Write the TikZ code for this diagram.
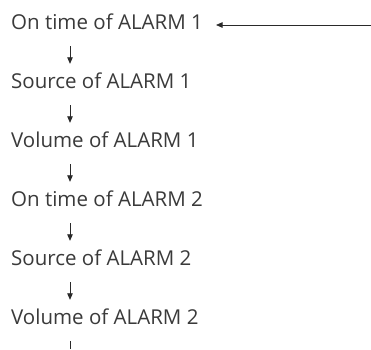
\documentclass[tikz,border=0pt]{standalone}
\usepackage{fontspec}
\setmainfont{Open Sans}
\usepackage{tikz}
\usetikzlibrary{arrows.meta,positioning,calc}
\definecolor{ink}{HTML}{3A3A3A}
\definecolor{wire}{HTML}{2A2A2A}
\tikzset{
  menuitem/.style={anchor=base west,inner xsep=0pt,inner ysep=0pt,
                   text height=15pt,text depth=4pt,
                   font=\fontsize{20.5}{24}\selectfont,text=ink},
  flowarr/.style={-{Triangle[length=6.5pt,width=5.5pt]},line width=0.8pt,color=wire,
                  shorten <=13pt,shorten >=9pt},
  feedarr/.style={-{Triangle[length=6.5pt,width=5.5pt]},line width=0.8pt,color=wire}
}

\begin{document}
\begin{tikzpicture}[x=1pt,y=1pt]
      \useasboundingbox (0,0) rectangle (371,-349);
      \coordinate (spine) at (70,0);
      \coordinate (feed) at (371,-25);
      \coordinate (tail) at (70,-349);
      % menu entries, top to bottom
      \foreach \txt [count=\i] in {On time of ALARM 1,Source of ALARM 1,
          Volume of ALARM 1,On time of ALARM 2,Source of ALARM 2,Volume of ALARM 2}
        \node[menuitem] (l\i) at (11,{-29-59*(\i-1)}) {\txt};
      \foreach \i [evaluate=\i as \j using int(\i+1)] in {1,...,5}
        \draw[flowarr] (l\i.south -| spine) -- (l\j.north -| spine);
      \draw[line width=0.8pt,color=wire,shorten <=13pt] (l6.south -| spine) -- (tail);
      \draw[feedarr,shorten >=13pt] (feed) -- (l1.east |- feed);
    \end{tikzpicture}
\end{document}
